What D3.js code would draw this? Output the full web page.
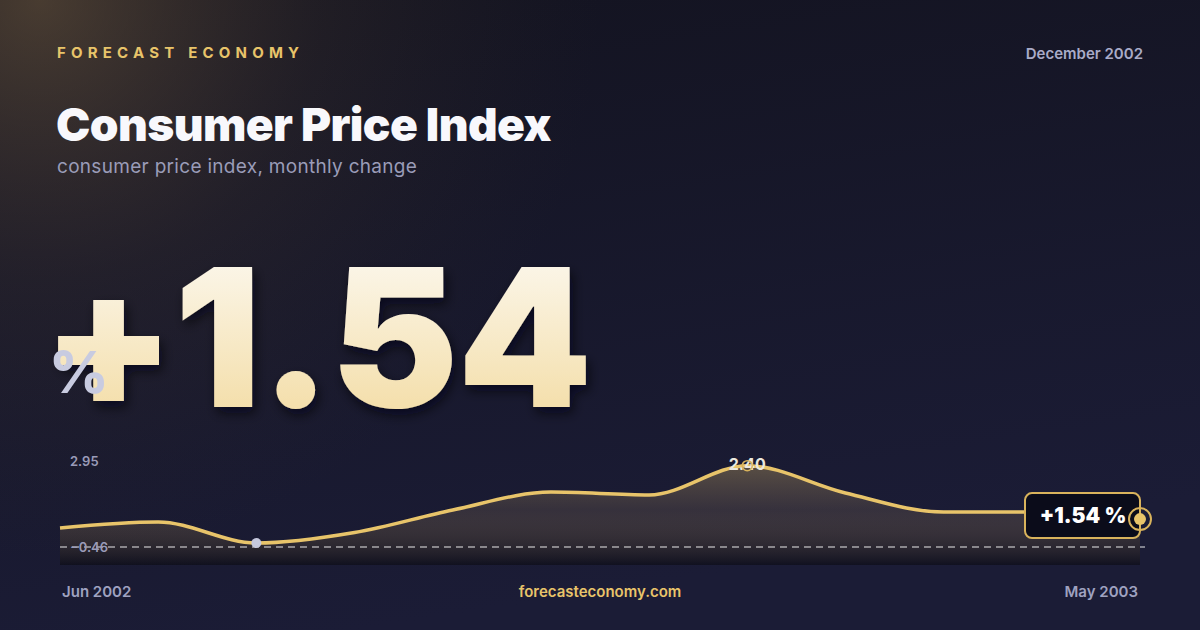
<!DOCTYPE html>
<html>
<head>
<meta charset="utf-8">
<script src="https://cdn.jsdelivr.net/npm/d3@7"></script>
<style>
  html, body { margin: 0; padding: 0; background: #14152a; }
  svg { display: block; }
  text { font-family: Inter, "Noto Sans", sans-serif; }
</style>
</head>
<body>
<div id="chart"></div>
<script>
// months shown on the sparkline
var months = ["Jun 2002", "Jul 2002", "Aug 2002", "Sep 2002", "Oct 2002", "Nov 2002",
              "Dec 2002", "Jan 2003", "Feb 2003", "Mar 2003", "Apr 2003", "May 2003"];
// monthly change, %
var values = [0.21, 0.42, -0.32, 0.05, 0.84, 1.47, 1.37, 2.40, 1.44, 0.77, 0.77, 0.52];
var yExtent = [-0.46, 2.95];
var headline = "+1.54";
var period = "December 2002";

var W = 1200, H = 630;

var svg = d3.select("#chart").append("svg")
    .attr("width", W)
    .attr("height", H);

var defs = svg.append("defs");

// background
var bg = defs.append("linearGradient").attr("id", "bg")
    .attr("x1", 0).attr("y1", 0).attr("x2", 0.3).attr("y2", 1);
bg.append("stop").attr("offset", 0).attr("stop-color", "#13131f");
bg.append("stop").attr("offset", 1).attr("stop-color", "#1b1c36");

var glow = defs.append("radialGradient").attr("id", "glow")
    .attr("gradientUnits", "userSpaceOnUse")
    .attr("cx", 40).attr("cy", 0).attr("r", 560);
glow.append("stop").attr("offset", 0).attr("stop-color", "rgba(125,100,66,0.5)");
glow.append("stop").attr("offset", 0.5).attr("stop-color", "rgba(90,72,52,0.18)");
glow.append("stop").attr("offset", 1).attr("stop-color", "rgba(60,50,40,0)");

var bigFill = defs.append("linearGradient").attr("id", "bigfill")
    .attr("x1", 0).attr("y1", 0).attr("x2", 0).attr("y2", 1);
bigFill.append("stop").attr("offset", 0).attr("stop-color", "#fdfcf9");
bigFill.append("stop").attr("offset", 1).attr("stop-color", "#f2d899");

var shadow = defs.append("filter").attr("id", "shadow")
    .attr("x", "-10%").attr("y", "-10%").attr("width", "130%").attr("height", "140%");
shadow.append("feDropShadow")
    .attr("dx", 3).attr("dy", 6).attr("stdDeviation", 6)
    .attr("flood-color", "#05050c").attr("flood-opacity", 0.65);

var areaFill = defs.append("linearGradient").attr("id", "areafill")
    .attr("gradientUnits", "userSpaceOnUse")
    .attr("x1", 0).attr("y1", 455).attr("x2", 0).attr("y2", 565);
areaFill.append("stop").attr("offset", 0).attr("stop-color", "rgba(232,196,106,0.36)");
areaFill.append("stop").attr("offset", 0.5).attr("stop-color", "rgba(180,148,98,0.18)");
areaFill.append("stop").attr("offset", 1).attr("stop-color", "rgba(8,8,14,0.55)");

svg.append("rect").attr("width", W).attr("height", H).attr("fill", "url(#bg)");
svg.append("rect").attr("width", W).attr("height", H).attr("fill", "url(#glow)");

// header
svg.append("text")
    .attr("x", 57).attr("y", 58)
    .attr("fill", "#e8c46a")
    .attr("font-size", 15).attr("font-weight", 700)
    .attr("letter-spacing", 5.2)
    .text("FORECAST ECONOMY");

svg.append("text")
    .attr("x", 1143).attr("y", 59)
    .attr("text-anchor", "end")
    .attr("fill", "#a9abc8")
    .attr("font-size", 15).attr("font-weight", 600)
    .text(period);

svg.append("text")
    .attr("x", 56).attr("y", 141)
    .attr("fill", "#f8f8fc")
    .attr("font-size", 46).attr("font-weight", 900)
    .attr("letter-spacing", -0.6)
    .text("Consumer Price Index");

svg.append("text")
    .attr("x", 57).attr("y", 173)
    .attr("fill", "#9a9cb8")
    .attr("font-size", 19).attr("font-weight", 400)
    .attr("letter-spacing", 0.3)
    .text("consumer price index, monthly change");

// big number
svg.append("text")
    .attr("x", 42).attr("y", 407)
    .attr("fill", "url(#bigfill)")
    .attr("filter", "url(#shadow)")
    .attr("font-size", 192).attr("font-weight", 900)
    .attr("letter-spacing", -1)
    .text(headline);

svg.append("text")
    .attr("x", 49).attr("y", 393)
    .attr("fill", "#c8cbe0")
    .attr("font-size", 58).attr("font-weight", 800)
    .text("%");

// sparkline
var x = d3.scaleLinear().domain([0, months.length - 1]).range([60, 1140]);
var y = d3.scaleLinear().domain(yExtent).range([547, 450]);
var bottom = 565;

var area = d3.area()
    .x(function(d, i) { return x(i); })
    .y0(bottom)
    .y1(function(d) { return y(d); })
    .curve(d3.curveMonotoneX);

var line = d3.line()
    .x(function(d, i) { return x(i); })
    .y(function(d) { return y(d); })
    .curve(d3.curveMonotoneX);

svg.append("path").datum(values)
    .attr("d", area)
    .attr("fill", "url(#areafill)");

svg.append("line")
    .attr("x1", x(0)).attr("x2", x(months.length - 1) + 5)
    .attr("y1", y(yExtent[0])).attr("y2", y(yExtent[0]))
    .attr("stroke", "#ffffff").attr("stroke-opacity", 0.9)
    .attr("stroke-width", 1)
    .attr("stroke-dasharray", "7,5");

svg.append("path").datum(values)
    .attr("d", line)
    .attr("fill", "none")
    .attr("stroke", "#e8c46a")
    .attr("stroke-width", 3.5)
    .attr("stroke-linejoin", "round");

// extent labels
svg.append("text")
    .attr("x", 70).attr("y", 466)
    .attr("fill", "#9a9bb8")
    .attr("font-size", 13).attr("font-weight", 600)
    .text(d3.format(".2f")(yExtent[1]));

svg.append("text")
    .attr("x", 70).attr("y", 552)
    .attr("fill", "#9a9bb8")
    .attr("font-size", 13).attr("font-weight", 600)
    .text(d3.format(".2f")(yExtent[0]));

// min point
var iMin = d3.minIndex(values);
svg.append("circle")
    .attr("cx", x(iMin)).attr("cy", y(values[iMin]))
    .attr("r", 5)
    .attr("fill", "#c5c8dc");

// max point
var iMax = d3.maxIndex(values);
svg.append("text")
    .attr("x", x(iMax)).attr("y", y(values[iMax]) + 4)
    .attr("text-anchor", "middle")
    .attr("fill", "#ece8de")
    .attr("font-size", 16).attr("font-weight", 700)
    .text(d3.format(".2f")(values[iMax]));

svg.append("circle")
    .attr("cx", x(iMax)).attr("cy", y(values[iMax]))
    .attr("r", 5)
    .attr("fill", "none")
    .attr("stroke", "#d9b35c")
    .attr("stroke-width", 1.5);

// last point callout
var iLast = values.length - 1;
var lx = x(iLast), ly = y(values[iLast]);
svg.append("rect")
    .attr("x", lx - 115).attr("y", ly - 26)
    .attr("width", 115).attr("height", 45)
    .attr("rx", 7)
    .attr("fill", "#0b0c1a")
    .attr("stroke", "#d9b35c")
    .attr("stroke-width", 2);

svg.append("text")
    .attr("x", lx - 57).attr("y", ly + 4)
    .attr("text-anchor", "middle")
    .attr("fill", "#ffffff")
    .attr("font-size", 21).attr("font-weight", 900)
    .text(headline + " %");

svg.append("circle")
    .attr("cx", lx).attr("cy", ly)
    .attr("r", 11)
    .attr("fill", "none")
    .attr("stroke", "#d9b35c")
    .attr("stroke-width", 2);

svg.append("circle")
    .attr("cx", lx).attr("cy", ly)
    .attr("r", 6)
    .attr("fill", "#e8c46a");

// footer
svg.append("text")
    .attr("x", 62).attr("y", 597)
    .attr("fill", "#9fa2c0")
    .attr("font-size", 15).attr("font-weight", 600)
    .text(months[0]);

svg.append("text")
    .attr("x", 600).attr("y", 597)
    .attr("text-anchor", "middle")
    .attr("fill", "#e8c46a")
    .attr("font-size", 15).attr("font-weight", 600)
    .text("forecasteconomy.com");

svg.append("text")
    .attr("x", 1138).attr("y", 597)
    .attr("text-anchor", "end")
    .attr("fill", "#9fa2c0")
    .attr("font-size", 15).attr("font-weight", 600)
    .text(months[months.length - 1]);
</script>
</body>
</html>
